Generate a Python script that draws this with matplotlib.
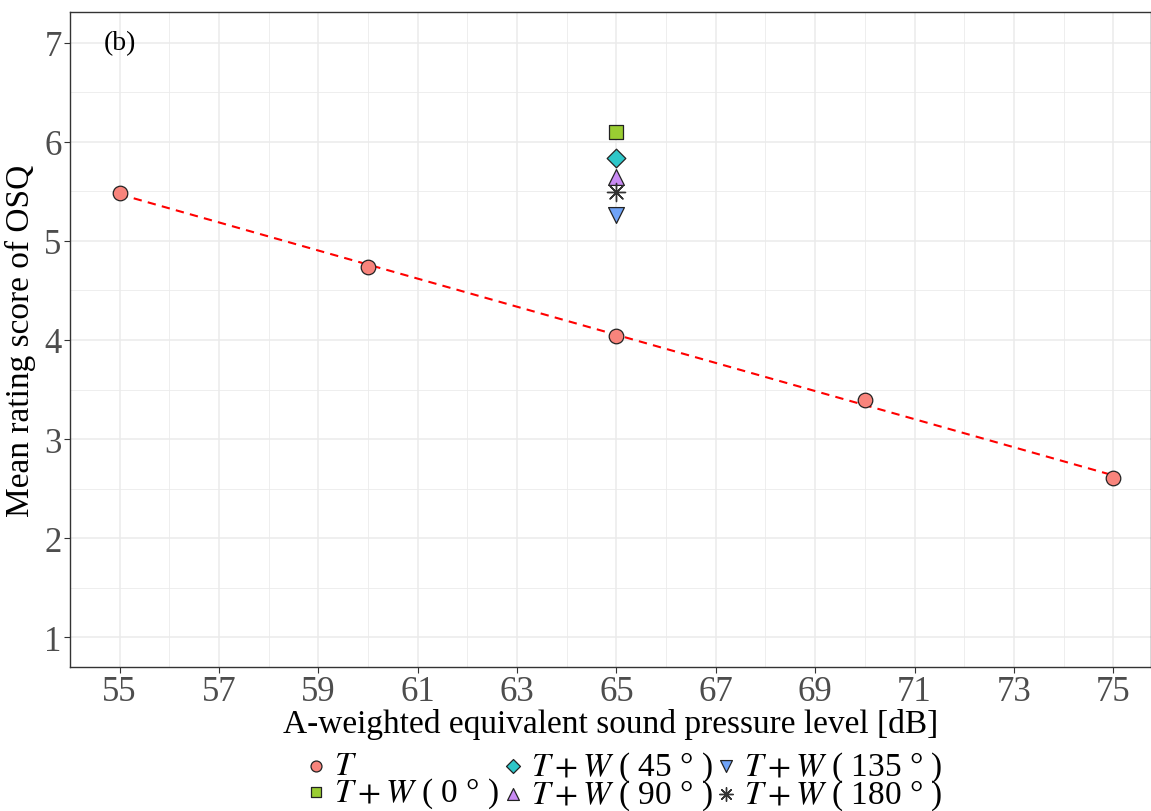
import numpy as np
import matplotlib
matplotlib.use("Agg")
import matplotlib.pyplot as plt
from matplotlib.ticker import MultipleLocator

plt.rcParams['font.family'] = ['Liberation Serif', 'DejaVu Serif']
plt.rcParams['mathtext.fontset'] = 'stix'

# Data
t_levels = [55, 60, 65, 70, 75]
t_scores = [5.48, 4.74, 4.04, 3.39, 2.61]

w_level = 65
w_labels = ['0', '45', '90', '135', '180']
w_scores = [6.10, 5.84, 5.64, 5.26, 5.49]

x_ticks = [55, 57, 59, 61, 63, 65, 67, 69, 71, 73, 75]
y_ticks = [1, 2, 3, 4, 5, 6, 7]

fig = plt.figure(figsize=(11.51, 8.12), dpi=100)
ax = fig.add_axes([70/1151, (812-668)/812, (1151-70)/1151, (668-13)/812])

ax.set_xlim(54, 75.76)
ax.set_ylim(0.7, 7.31)
ax.set_xticks(x_ticks)
ax.xaxis.set_minor_locator(MultipleLocator(1))
ax.set_yticks(y_ticks)
ax.yaxis.set_minor_locator(MultipleLocator(0.5))
ax.grid(which='major', color='#EBEBEB', lw=1.1)
ax.grid(which='minor', color='#EBEBEB', lw=0.6)
ax.set_axisbelow(True)
ax.tick_params(which='minor', length=0)
ax.tick_params(which='major', length=4, width=0.8, color='#333333',
               labelsize=25, labelcolor='#4D4D4D', pad=2)
for s in ax.spines.values():
    s.set_color('#333333')
    s.set_linewidth(1.0)

# regression line
coef = np.polyfit(t_levels, t_scores, 1)
xs = np.array([min(t_levels), max(t_levels)])
ax.plot(xs, np.polyval(coef, xs), ls=(0, (4, 3)), color='red', lw=1.5, zorder=2)

h_t = ax.scatter(t_levels, t_scores, s=110, marker='o', facecolor='#F8847C',
                 edgecolor='#222222', linewidth=0.9, zorder=3,
                 label=r'$T$')

styles = {
    '0': ('s', '#9ACD32'),
    '45': ('D', '#2EC7C9'),
    '90': ('^', '#C98BF4'),
    '135': ('v', '#6FA3F7'),
    '180': ((8, 2, 0), '#333333'),
}
sizes = {'0': 100, '45': 90, '90': 130, '135': 130, '180': 170}
wh = {}
for lab, sc in zip(w_labels, w_scores):
    m, c = styles[lab]
    lbl = r'$T + W$ ( ' + lab + ' \u00b0 )'
    if lab == '180':
        h = ax.scatter([w_level], [sc], s=sizes[lab], marker=m, color=c,
                       linewidth=1.0, zorder=3, label=lbl)
    else:
        h = ax.scatter([w_level], [sc], s=sizes[lab], marker=m, facecolor=c,
                       edgecolor='#222222', linewidth=0.9, zorder=3, label=lbl)
    wh[lab] = h

ax.set_xlabel('A-weighted equivalent sound pressure level [dB]', fontsize=24, labelpad=0)
ax.set_ylabel('Mean rating score of OSQ', fontsize=24, labelpad=6)
ax.text(55.0, 7.0, '(b)', fontsize=20, va='center', ha='center')

order = [h_t, wh['0'], wh['45'], wh['90'], wh['135'], wh['180']]
leg = fig.legend(handles=order, labels=[o.get_label() for o in order],
                 loc='lower center', bbox_to_anchor=(0.541, -0.026), ncol=3,
                 frameon=False, fontsize=24, handletextpad=0.15,
                 columnspacing=0.0, labelspacing=-0.18, handlelength=0.8,
                 markerscale=0.75, borderpad=0.1)

fig.savefig('out.png', dpi=100)
